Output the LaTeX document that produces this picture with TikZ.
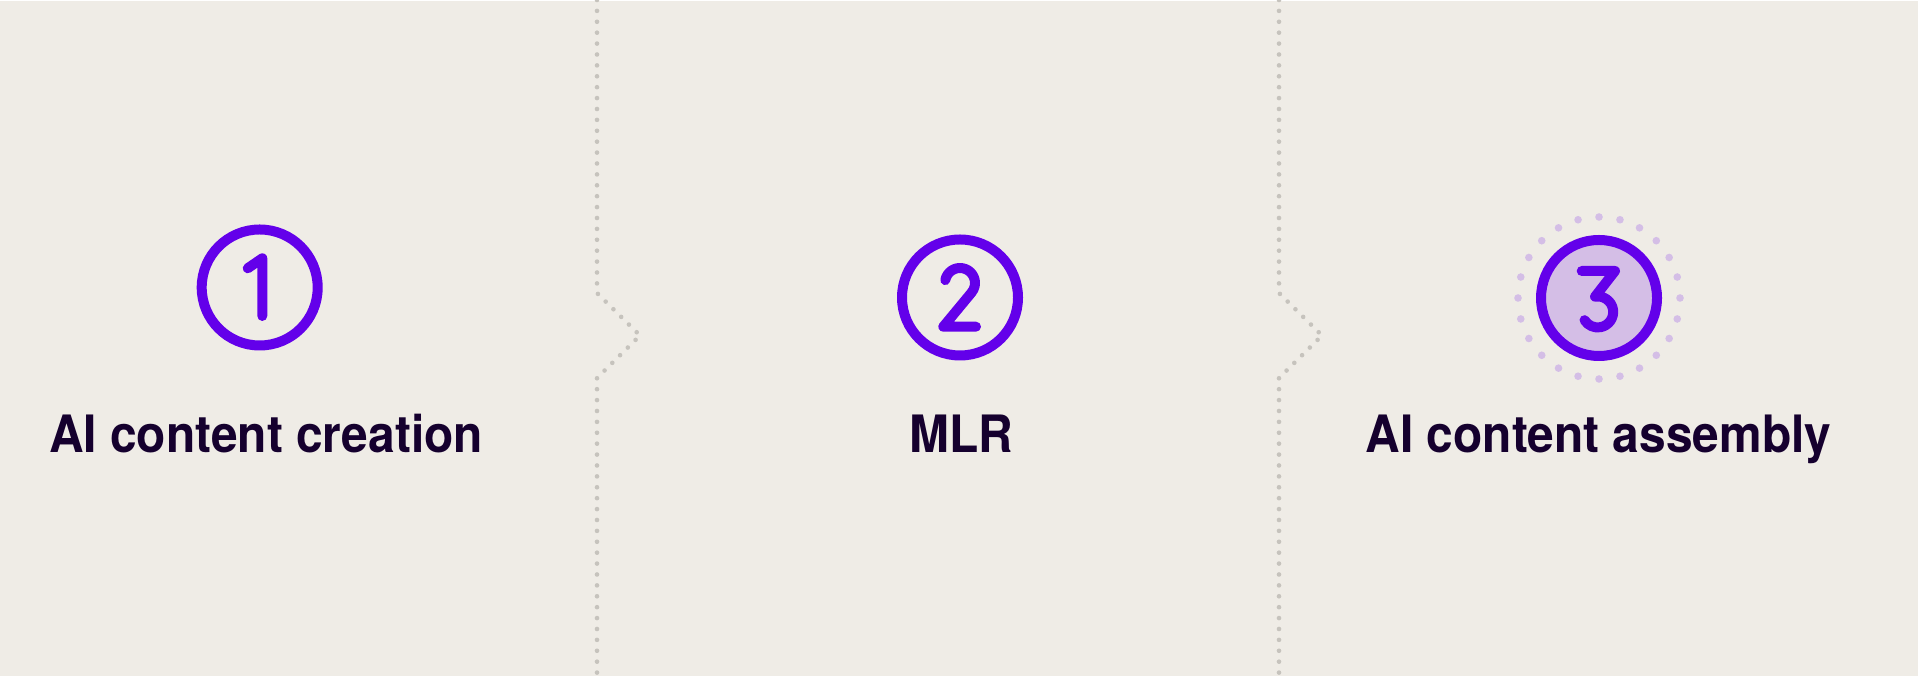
\documentclass[tikz,border=0pt]{standalone}
\usepackage{fontspec}
\setmainfont{TeX Gyre Heros}[FakeStretch=0.93]
\definecolor{bg}{RGB}{239,236,230}
\definecolor{vio}{RGB}{99,0,234}
\definecolor{lav}{RGB}{212,190,230}
\definecolor{ink}{RGB}{21,0,46}
\definecolor{sepc}{RGB}{198,195,189}
\tikzset{
  ring/.style={circle, draw=vio, line width=10pt, minimum size=116pt, inner sep=0pt},
  digit/.style={draw=vio, line width=10pt, line cap=round, line join=round},
  sepline/.style={draw=sepc, line width=4.6pt, line cap=round, dash pattern=on 0pt off 10.9pt},
  steplabel/.style={anchor=base, text=ink, inner sep=0pt, font=\fontsize{51.5}{60}\selectfont\bfseries},
  halo/.style={fill=lav}
}
\begin{document}
\begin{tikzpicture}[x=1pt,y=1pt]
\useasboundingbox (0,0) rectangle (1919,676);
\fill[white] (0,0) rectangle (1919,676);
\fill[bg] (0,0) rectangle (1918,675);

% separators
\coordinate (s1top) at (597,676);
\coordinate (s1a) at (597,383);
\coordinate (s1tip) at (640,340.5);
\coordinate (s1b) at (597,298);
\coordinate (s1bot) at (597,0);
\draw[sepline] (s1top) -- (s1a) -- (s1tip) -- (s1b) -- (s1bot);
\coordinate (s2top) at (1279,676);
\coordinate (s2a) at (1279,383);
\coordinate (s2tip) at (1322,340.5);
\coordinate (s2b) at (1279,298);
\coordinate (s2bot) at (1279,0);
\draw[sepline] (s2top) -- (s2a) -- (s2tip) -- (s2b) -- (s2bot);

% dotted halo around step 3
\coordinate (c3c) at (1599,378);
\foreach \a in {0,15,...,345}
  \fill[halo] ([shift={(\a:81pt)}]c3c) circle[radius=3.8pt];

% circles
\node[ring] (c1) at (259.7,388.5) {};
\node[ring] (c2) at (960,378.5) {};
\node[ring, fill=lav] (c3) at (c3c) {};

% digit 1
\begin{scope}[shift={(c1.center)}]
\draw[digit] (-12,19.2) -- (2.6,29.2) -- (2.6,-28.5);
\end{scope}
% digit 2
\begin{scope}[shift={(c2.center)}]
\draw[digit] (169:15pt) ++(0,14.5) arc[start angle=169, end angle=-40, radius=15pt] -- (-16.7,-29.2) -- (16,-29.2);
\end{scope}
% digit 3
\begin{scope}[shift={(c3.center)}]
\draw[digit] (-17.3,27) -- (16,27) -- (-4,1.3) arc[start angle=100, end angle=-148, radius=15.5pt];
\end{scope}

% labels
\node[steplabel] (l1) at (266,223) {AI content creation};
\node[steplabel] (l2) at (961.5,223) {MLR};
\node[steplabel] (l3) at (1598.5,223) {AI content assembly};
\end{tikzpicture}
\end{document}
